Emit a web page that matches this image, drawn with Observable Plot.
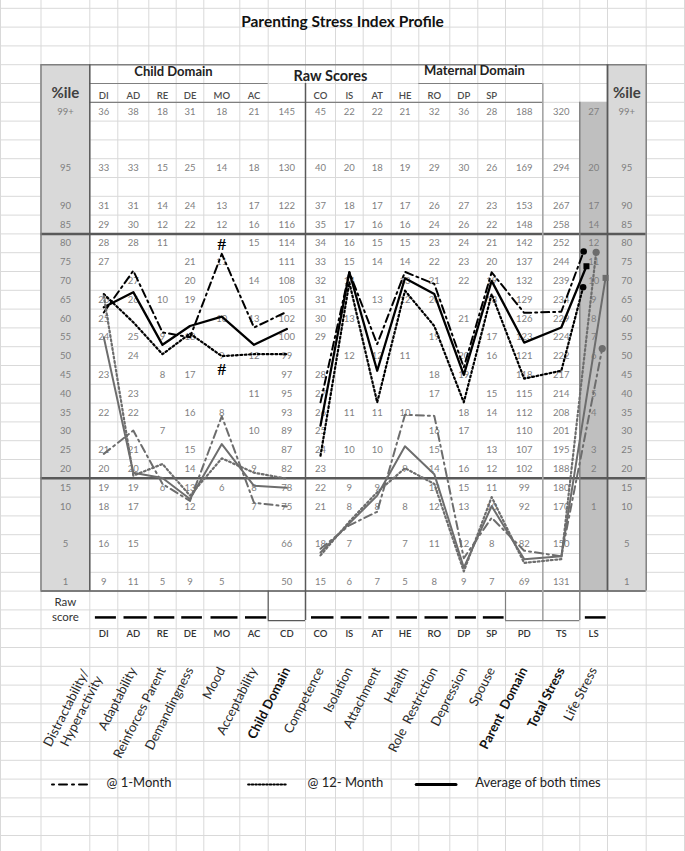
<!DOCTYPE html>
<html>
<head>
<meta charset="utf-8">
<script src="https://cdn.jsdelivr.net/npm/d3@7"></script>
<script src="https://cdn.jsdelivr.net/npm/@observablehq/plot@0.6"></script>
<style>
html,body{margin:0;padding:0;background:#fff;}
#chart svg{display:block;}
</style>
</head>
<body>
<div id="chart"></div>
<script>
// ================= DATA =================
const title = "Parenting Stress Index Profile";
const codes = ["DI","AD","RE","DE","MO","AC","CD","CO","IS","AT","HE","RO","DP","SP","PD","TS","LS"];
const headerCodes = ["DI","AD","RE","DE","MO","AC","","CO","IS","AT","HE","RO","DP","SP","","",""];
const subscaleNames = ["Distractability/\nHyperactivity","Adaptability","Reinforces Parent","Demandingness","Mood","Acceptability","Child Domain","Competence","Isolation","Attachment","Health","Role  Restriction","Depression","Spouse","Parent  Domain","Total Stress","Life Stress"];
const boldNames = ["Child Domain","Parent  Domain","Total Stress"];
const totals = ["CD","PD","TS"]; // boxed raw-score cells (no underline)
const percentileLabels = ["99+","","","95","","90","85","80","75","70","65","60","55","50","45","40","35","30","25","20","15","10","","5","","1"];

// raw-score norms, one array per column, one entry per percentile row
const _ = null;
const DI = [36,_,_,33,_,31,29,28,27,_,26,25,24,_,23,_,22,_,21,20,19,18,_,16,_,9];
const AD = [38,_,_,33,_,31,30,28,_,27,26,_,25,24,_,23,22,_,21,20,19,17,_,15,_,11];
const RE = [18,_,_,15,_,14,12,11,_,_,10,_,9,_,8,_,_,7,_,_,6,_,_,_,_,5];
const DE = [31,_,_,25,_,24,22,_,21,20,19,_,18,_,17,_,16,_,15,14,13,12,_,_,_,9];
const MO = [18,_,_,14,_,13,12,_,11,_,_,10,_,9,_,_,8,_,_,_,6,_,_,_,_,5];
const AC = [21,_,_,18,_,17,16,15,_,14,_,13,_,12,_,11,_,10,_,9,8,7,_,_,_,_];
const CD = [145,_,_,130,_,122,116,114,111,108,105,102,100,99,97,95,93,89,87,82,78,75,_,66,_,50];
const CO = [45,_,_,40,_,37,35,34,33,32,31,30,29,_,28,27,26,25,24,23,22,21,_,18,_,15];
const IS = [22,_,_,20,_,18,17,16,15,14,_,13,_,12,_,_,11,_,10,_,9,8,_,7,_,6];
const AT = [22,_,_,18,_,17,16,15,14,_,13,_,_,12,_,_,11,_,10,_,9,8,_,_,_,7];
const HE = [21,_,_,19,_,17,16,15,14,13,12,_,_,11,_,_,10,_,_,9,_,8,_,7,_,5];
const RO = [32,_,_,29,_,26,24,23,22,21,20,_,19,_,18,17,_,16,15,14,13,12,_,11,_,8];
const DP = [36,_,_,30,_,27,26,24,23,22,_,21,_,20,19,_,18,17,_,16,15,13,_,12,_,9];
const SP = [28,_,_,26,_,23,22,21,20,19,18,_,17,16,_,15,14,_,13,12,11,10,_,8,_,7];
const PD = [188,_,_,169,_,153,148,142,137,132,129,126,123,121,118,115,112,110,107,102,99,92,_,82,_,69];
const TS = [320,_,_,294,_,267,258,252,244,239,234,229,224,222,217,214,208,201,195,188,180,170,_,150,_,131];
const LS = [27,_,_,20,_,17,14,12,11,10,9,8,7,6,_,5,4,_,3,2,_,1,_,_,_,_];
const norms = [DI,AD,RE,DE,MO,AC,CD,CO,IS,AT,HE,RO,DP,SP,PD,TS,LS];

// percentile profiles (values per code)
const oneMonthA    = [61.6,72.7,56.3,55,77.2,57.6,61.8, 37.7,72.3,53.2,72.4,69.2,47,72.3,61.5,61.8,77.8];
const twelveMonthA = [66.5,59,50.5,56,50,50.5,50.5, 23.5,69.6,37.7,67.4,58,37.7,66.5,44,46.1,68.3];
const averageA     = [63,67,53,58,60.5,53,57.2, 31.5,72.3,46.1,70.7,66.5,45,70,53.6,57.6,73.9];
const oneMonthB    = [24,30.2,16,11.5,34,11,10, 4.5,7.5,9.3,34.4,34.1,3.5,8.5,4.3,3.7,52];
const twelveMonthB = [66,18.2,21.3,12.9,22.8,19,17.4, 3.8,8,13.8,20.2,16,2.1,12.5,3,3.4,77.6];
const averageB     = [55,19,17.6,12,26.6,15.5,15, 4.1,7.75,12.9,26,18.6,2.5,10.1,3.4,3.7,70.8];
const hashMarks = [{code:"MO", pct:79.8}, {code:"MO", pct:46.3}];
const legendLabels = ["@ 1-Month","@ 12- Month","Average of both times"];

// ================= LAYOUT =================
const X_EDGES = [0,40.5,89.3,117.3,148.3,175.7,203.3,239.3,267.7,305,335,362.7,390.7,418.3,449.3,477.3,505,542.3,579.3,607,645.7,684];
const ROW0 = 111.2, ROWH = 18.8;
const FONT = "Lato, 'Open Sans', 'Noto Sans', sans-serif";
const GRID = "#d9d9d9", DARK = "#595959", MID = "#7f7f7f", LIGHT = "#a6a6a6";
const pxToCol = d3.scaleLinear().domain(X_EDGES).range(X_EDGES.map((_, i) => i));
const pxToRow = p => (p - ROW0) / ROWH;
const colCenter = i => 2 + i + 0.5;
const FIRST_COL = 2;

// percentile -> row position, derived from the labelled rows
const labelled = percentileLabels.map((l, r) => ({l, r})).filter(d => d.l !== "");
const pctRow = d3.scaleLinear().domain(labelled.map(d => parseFloat(d.l))).range(labelled.map(d => d.r));

// table cells
const cells = [];
norms.forEach((col, i) => col.forEach((v, r) => { if (v != null) cells.push({x: colCenter(i), y: r, t: String(v)}); }));
const pctCells = percentileLabels.map((l, r) => ({r, l})).filter(d => d.l !== "");

// series
const GRAY = "#6d6d6d";
const DASHDOT = "8,4,2,4", DOTTED = "1.8,2.6";
const series = [
  {v: oneMonthA, stroke: "#000", dash: DASHDOT, w: 2, ls: 0.14, sym: "circle", r: 3.3},
  {v: twelveMonthA, stroke: "#000", dash: DOTTED, w: 2.2, ls: 0.12, sym: "circle", r: 3.3},
  {v: averageA, stroke: "#000", dash: null, w: 2.3, ls: 0.24, sym: "square", r: 3.4},
  {v: oneMonthB, stroke: GRAY, dash: DASHDOT, w: 2, ls: 0.81, sym: "circle", r: 3.6},
  {v: twelveMonthB, stroke: GRAY, dash: DOTTED, w: 2.2, ls: 0.59, sym: "circle", r: 3.6},
  {v: averageB, stroke: GRAY, dash: null, w: 2, ls: 0.93, sym: "square", r: 3.4}
];
const pts = s => s.v.map((p, i) => ({
  x: codes[i] === "LS" ? FIRST_COL + i + s.ls : colCenter(i),
  y: pctRow(p),
  seg: i < codes.indexOf("CO") ? "child" : "parent"
}));

// borders
const hB = [
  {y:-2.5, x1:1, x2:20, s:MID, w:1.5},
  {y:-1.5, x1:2, x2:8, s:MID, w:1.2},
  {y:-1.5, x1:13, x2:17, s:MID, w:1.2},
  {y:-0.5, x1:2, x2:17, s:MID, w:1.2},
  {y:6.5, x1:1, x2:20, s:DARK, w:2.5},
  {y:19.5, x1:1, x2:20, s:DARK, w:2.5},
  {y:25.5, x1:1, x2:20, s:DARK, w:1.5},
  {y:27.07, x1:8, x2:9, s:DARK, w:1.2},
  {y:27.07, x1:16, x2:18, s:MID, w:1.2}
];
const vB = [
  {x:1, y1:-2.5, y2:25.5, s:MID, w:1.5},
  {x:2, y1:-2.5, y2:25.5, s:DARK, w:1.5},
  {x:9, y1:-1.5, y2:27.07, s:DARK, w:1.5},
  {x:8, y1:25.5, y2:27.07, s:DARK, w:1.2},
  {x:16, y1:25.5, y2:27.07, s:MID, w:1.2},
  {x:17, y1:-1.5, y2:27.07, s:LIGHT, w:1.6},
  {x:18, y1:-0.5, y2:27.07, s:MID, w:1.4},
  {x:19, y1:-2.5, y2:25.5, s:DARK, w:1.8},
  {x:20, y1:-2.5, y2:25.5, s:MID, w:1.5}
];

const marks = [];
// spreadsheet grid
marks.push(Plot.ruleX(d3.range(0, X_EDGES.length), {stroke: GRID, strokeWidth: 1}));
marks.push(Plot.ruleY(d3.range(-6.5, 40, 1), {stroke: GRID, strokeWidth: 1}));
// shaded columns
marks.push(Plot.rect([{x1:1,x2:2,y1:-2.5,y2:25.5},{x1:19,x2:20,y1:-2.5,y2:25.5}], {x1:"x1",x2:"x2",y1:"y1",y2:"y2",fill:"#d9d9d9"}));
marks.push(Plot.rect([{x1:18,x2:19,y1:-0.5,y2:25.5}], {x1:"x1",x2:"x2",y1:"y1",y2:"y2",fill:"#bfbfbf"}));
// borders
for (const b of hB) marks.push(Plot.ruleY([b], {y:"y", x1:"x1", x2:"x2", stroke:b.s, strokeWidth:b.w}));
for (const b of vB) marks.push(Plot.ruleX([b], {x:"x", y1:"y1", y2:"y2", stroke:b.s, strokeWidth:b.w}));

// title and headers
marks.push(Plot.text([title], {x: pxToCol(342), y: pxToRow(22), text: d => d, fontSize: 15.5, fontWeight: "bold", fill: "#111", fontFamily: FONT}));
marks.push(Plot.text(["Child Domain"], {x: pxToCol(173), y: -2.1, text: d => d, fontSize: 13, fontWeight: "bold", fill: "#222", fontFamily: FONT}));
marks.push(Plot.text(["Raw Scores"], {x: pxToCol(330), y: -1.9, text: d => d, fontSize: 14.5, fontWeight: "bold", fill: "#222", fontFamily: FONT}));
marks.push(Plot.text(["Maternal Domain"], {x: pxToCol(474), y: -2.2, text: d => d, fontSize: 13, fontWeight: "bold", fill: "#222", fontFamily: FONT}));
marks.push(Plot.text(["%ile", "%ile"], {x: (d, i) => i === 0 ? 1.5 : 19.5, y: -1.0, text: d => d, fontSize: 15, fontWeight: "bold", fill: "#404040", fontFamily: FONT}));
marks.push(Plot.text(headerCodes.map((c, i) => ({c, i})).filter(d => d.c), {x: d => colCenter(d.i), y: -0.85, text: "c", fontSize: 9.5, fontWeight: 600, fill: "#4d4d4d", fontFamily: FONT}));

// percentile labels
marks.push(Plot.text(pctCells, {x: 1.5, y: "r", text: "l", fontSize: 9.5, fill: "#7f7f7f", fontFamily: FONT}));
marks.push(Plot.text(pctCells, {x: 19.5, y: "r", text: "l", fontSize: 9.5, fill: "#7f7f7f", fontFamily: FONT}));
// norm table
marks.push(Plot.text(cells, {x: "x", y: "y", text: "t", fontSize: 9.5, fill: "#7f7f7f", fontFamily: FONT}));

// raw score rows
marks.push(Plot.text(["Raw\nscore"], {x: 1.5, y: 26.42, text: d => d, fontSize: 11.5, lineHeight: 1.3, fill: "#333", fontFamily: FONT}));
marks.push(Plot.ruleY(codes.map((c, i) => ({c, i})).filter(d => !totals.includes(d.c)), {x1: d => FIRST_COL + d.i + 0.2, x2: d => FIRST_COL + d.i + 0.95, y: 26.9, stroke: "#000", strokeWidth: 2.5}));
marks.push(Plot.text(codes.map((c, i) => ({c, i})), {x: d => colCenter(d.i), y: 27.8, text: "c", fontSize: 9.5, fontWeight: 600, fill: "#333", fontFamily: FONT}));

// rotated subscale names
const names = subscaleNames.map((n, i) => ({n, i}));
marks.push(Plot.text(names.filter(d => d.i > 0 && !boldNames.includes(d.n)), {x: d => colCenter(d.i), y: 29.6, text: "n", rotate: -63, textAnchor: "end", fontSize: 13, fill: "#2a2a2a", fontFamily: FONT}));
marks.push(Plot.text(names.filter(d => boldNames.includes(d.n)), {x: d => colCenter(d.i), y: 29.6, text: "n", rotate: -63, textAnchor: "end", fontSize: 13, fontWeight: "bold", fill: "#111", fontFamily: FONT}));
marks.push(Plot.text(names.filter(d => d.i === 0), {x: d => colCenter(d.i), y: 29.6, dx: -12, dy: 5, text: "n", rotate: -63, textAnchor: "end", lineHeight: 1.15, fontSize: 13, fill: "#2a2a2a", fontFamily: FONT}));

// profile lines
for (const s of series) {
  marks.push(Plot.line(pts(s), {x: "x", y: "y", z: "seg", stroke: s.stroke, strokeWidth: s.w, strokeDasharray: s.dash || undefined, curve: "linear"}));
}
for (const s of series) {
  const last = pts(s)[codes.length - 1];
  marks.push(Plot.dot([last], {x: "x", y: "y", symbol: s.sym, r: s.r, fill: s.stroke, stroke: "none"}));
}
// # annotations
marks.push(Plot.text(hashMarks, {x: d => colCenter(codes.indexOf(d.code)), y: d => pctRow(d.pct), text: () => "#", fontSize: 17, fontWeight: "bold", fill: "#000", fontFamily: "'Liberation Serif', 'DejaVu Serif', serif"}));

// legend
const ly = pxToRow(784);
marks.push(Plot.line([[pxToCol(51.5), ly], [pxToCol(89.5), ly]], {stroke: "#000", strokeWidth: 2, strokeDasharray: "2,5,8,5"}));
marks.push(Plot.line([[pxToCol(247.6), ly], [pxToCol(287), ly]], {stroke: "#000", strokeWidth: 2, strokeDasharray: "1.6,2"}));
marks.push(Plot.line([[pxToCol(415.7), ly], [pxToCol(455.5), ly]], {stroke: "#000", strokeWidth: 3}));
marks.push(Plot.text(legendLabels.map((t, i) => ({t, x: pxToCol([106, 307, 474.7][i])})), {x: "x", y: ly - 0.1, text: "t", textAnchor: "start", fontSize: 13, fill: "#222", fontFamily: FONT}));

const chart = Plot.plot({
  width: 685,
  height: 851,
  margin: 0,
  style: {fontFamily: FONT, background: "#fff"},
  x: {type: "linear", domain: X_EDGES.map((_, i) => i), range: X_EDGES, axis: null},
  y: {type: "linear", domain: [0, 25], range: [ROW0, ROW0 + 25 * ROWH], axis: null},
  marks
});
document.getElementById("chart").appendChild(chart);
</script>
</body>
</html>
